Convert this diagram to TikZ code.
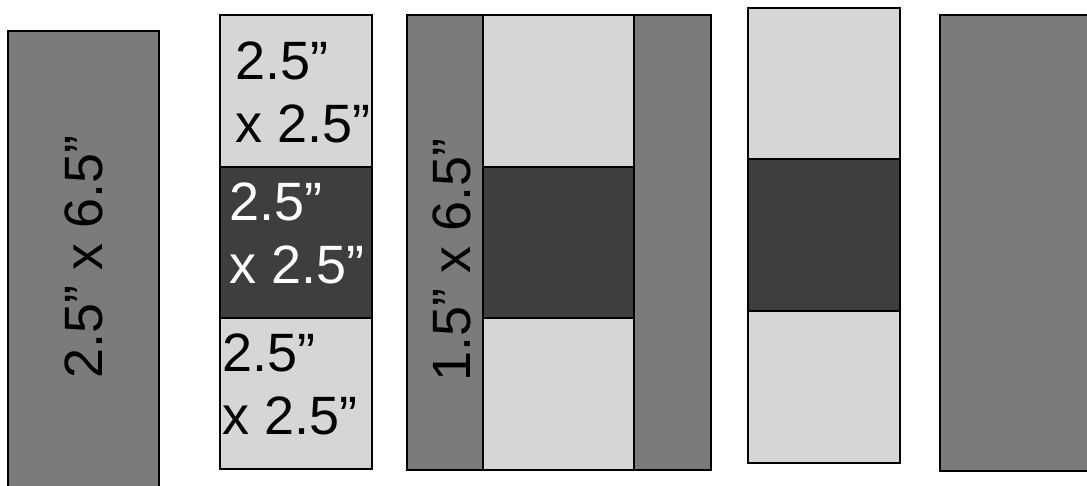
\documentclass[tikz,border=0pt]{standalone}
\usepackage{fontspec}
\setmainfont{Liberation Sans}
\usepackage{tikz}
\definecolor{patchmid}{HTML}{7B7B7B}
\definecolor{patchlight}{HTML}{D6D6D6}
\definecolor{patchdark}{HTML}{3E3E3E}

\begin{document}
\begin{tikzpicture}[x=1pt, y=-1pt,
    patch/.style={draw=black, line width=1.5pt},
    lbl/.style={font=\fontsize{54}{63}\selectfont, inner sep=0pt, align=left}]
  \clip (0,0) rectangle (1087,485);
  % long strip on the left
  \filldraw[patch, fill=patchmid] (8,31) rectangle (159,495);
  \node[lbl, rotate=90, anchor=base west] (striplbl) at (102,379) {2.5” x 6.5”};
  % stack of three squares
  \foreach \tp/\bt/\cc in {15/167/patchlight, 167/318/patchdark, 318/469/patchlight}
    \filldraw[patch, fill=\cc] (220,\tp) rectangle (372,\bt);
  \node[lbl, anchor=north west] (sqa) at (235,42) {2.5”\\x 2.5”};
  \node[lbl, anchor=north west, text=white] (sqb) at (229,183) {2.5”\\x 2.5”};
  \node[lbl, anchor=north west] (sqc) at (222,334) {2.5”\\x 2.5”};
  % stack with strips on both sides
  \filldraw[patch, fill=patchmid] (407,15) rectangle (483,470);
  \filldraw[patch, fill=patchmid] (634,15) rectangle (711,470);
  \foreach \tp/\bt/\cc in {15/167/patchlight, 167/318/patchdark, 318/470/patchlight}
    \filldraw[patch, fill=\cc] (483,\tp) rectangle (634,\bt);
  \node[lbl, rotate=90, anchor=base west] (sidelbl) at (470,382) {1.5” x 6.5”};
  % stack alone
  \foreach \tp/\bt/\cc in {8/159/patchlight, 159/311/patchdark, 311/463/patchlight}
    \filldraw[patch, fill=\cc] (748,\tp) rectangle (900,\bt);
  % wide piece, cut off on the right
  \filldraw[patch, fill=patchmid] (940,15) rectangle (1100,471);
\end{tikzpicture}
\end{document}
